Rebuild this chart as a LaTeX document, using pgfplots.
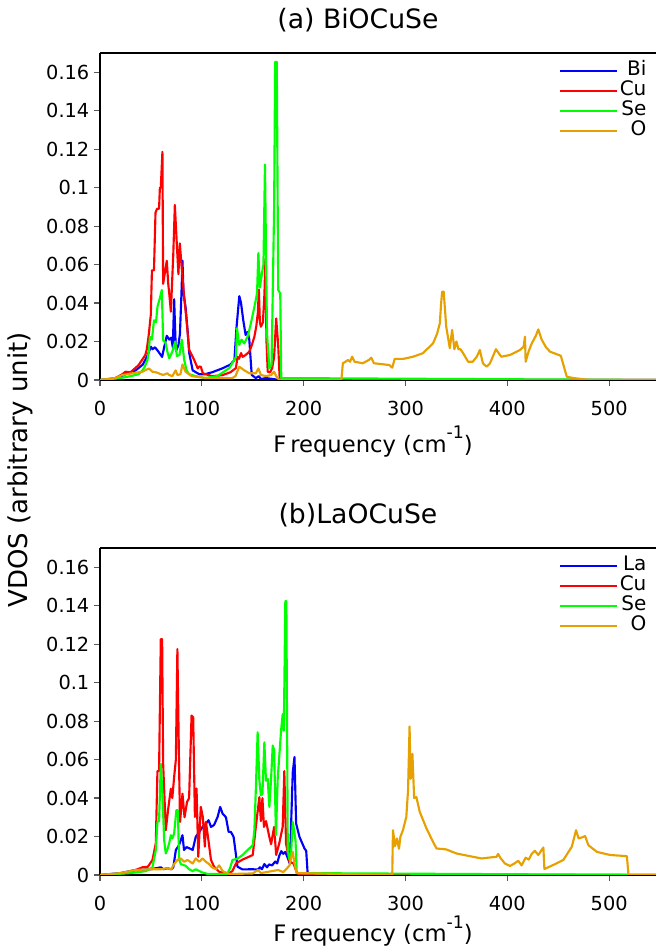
\documentclass[border=0pt]{standalone}
\usepackage{fontspec}
\setmainfont{DejaVu Sans}
\usepackage{pgfplots}
\pgfplotsset{compat=1.18}
\definecolor{cBi}{RGB}{0,0,255}
\definecolor{cCu}{RGB}{255,0,0}
\definecolor{cSe}{RGB}{0,255,0}
\definecolor{cO}{RGB}{230,160,0}

\pgfplotsset{
  vdos/.style={
    scale only axis, width=417pt, height=245.25pt,
    xmin=0, xmax=546, ymin=0, ymax=0.17,
    axis x line=box, axis y line=left, axis line style={-, line width=1.6pt},
    xtick pos=left, tick align=outside,
    xtick={0,100,...,500}, ytick={0,0.02,...,0.16},
    major tick length=4.5pt, tick style={gray!70!black, line width=0.9pt},
    scaled y ticks=false,
    /pgf/number format/assume math mode=true,
    yticklabel style={/pgf/number format/fixed, /pgf/number format/precision=2},
    xticklabel style={yshift=-8pt},
    tick label style={font=\fontsize{14.5}{16}\selectfont},
    xlabel={F\kern3pt requency (cm\raisebox{0.6em}{\fontsize{13}{13}\selectfont -1})},
    xlabel style={font=\fontsize{17}{19}\selectfont, at={(0.491,0)}, anchor=center, yshift=-46pt},
    title style={font=\fontsize{20}{22}\selectfont, at={(0.464,1)}, anchor=center, yshift=18.75pt},
    every axis plot/.append style={line width=1.6pt, mark=none, line join=round},
    legend cell align=right,
    legend style={draw=none, fill=none, at={(1,1)}, anchor=north east, xshift=-3pt, yshift=-3.5pt,
      font=\fontsize{15}{16}\selectfont, row sep=0pt,
      nodes={inner sep=1pt, text height=10.5pt, text depth=2.5pt}},
    legend image code/.code={\draw[##1] (0pt,0pt) -- (43pt,0pt);},
  }
}

\begin{document}
\begin{tikzpicture}
\begin{axis}[vdos, at={(75pt,426.75pt)}, anchor=origin, title={(a) BiOCuSe}]
\addplot[cBi] coordinates {(0,0) (15,0.0005) (25,0.003) (35,0.005) (42,0.008) (46,0.012) (50,0.0173) (51.5,0.016) (54,0.017) (57,0.015) (61,0.012) (63,0.017) (65.6,0.023) (68,0.021) (70,0.022) (71.5,0.017) (72.8,0.042) (74.5,0.015) (77,0.018) (78.5,0.024) (80,0.045) (81,0.062) (82,0.045) (84,0.038) (86,0.026) (87.6,0.014) (91,0.005) (97.5,0.003) (103,0.003) (110,0.004) (120,0.006) (128,0.008) (132,0.0104) (134,0.027) (136.8,0.0436) (138.5,0.040) (140.7,0.031) (143,0.0234) (145,0.025) (146.6,0.021) (149,0.0026) (153,0.001) (156,0.002) (158,0.0005) (163,0.001) (170,0.0005) (176,0) (546,0)};
\addlegendentry{Bi}
\addplot[cCu] coordinates {(0,0) (15,0.001) (22,0.003) (25,0.0043) (30,0.004) (38,0.0078) (42,0.011) (44.5,0.013) (46,0.016) (48,0.024) (49.9,0.034) (51,0.057) (53,0.057) (54.5,0.087) (56,0.089) (58,0.089) (58.8,0.1) (59.7,0.1) (61.3,0.1186) (62,0.050) (63.5,0.055) (65.6,0.062) (67,0.05) (68,0.045) (69.6,0.0355) (72,0.066) (73.5,0.091) (75.5,0.070) (77,0.055) (78.4,0.071) (80,0.06) (82.5,0.044) (84.8,0.032) (87.6,0.0156) (92.5,0.0104) (96,0.006) (97.5,0.007) (99,0.0069) (101,0.0035) (110,0.002) (120,0.0025) (128,0.004) (133.5,0.0062) (135,0.012) (136.5,0.011) (138.5,0.014) (140,0.012) (143,0.013) (146.6,0.0147) (149,0.018) (151.6,0.0225) (153.5,0.028) (155,0.035) (156,0.047) (157,0.03) (158,0.0277) (160,0.03) (161.5,0.045) (162.4,0.063) (163.5,0.02) (164.7,0.0043) (167,0.004) (169,0.006) (171,0.012) (173,0.032) (174,0.025) (175,0.018) (176.5,0) (546,0)};
\addlegendentry{Cu}
\addplot[cSe] coordinates {(0,0) (20,0.001) (30,0.002) (38,0.003) (41.7,0.005) (44,0.007) (46.6,0.0104) (48,0.015) (49,0.0225) (51,0.021) (53,0.031) (55,0.03) (56.4,0.038) (58.7,0.0424) (60.7,0.0468) (62,0.0208) (64.6,0.019) (66,0.015) (68,0.0113) (71.2,0.015) (73.8,0.02) (75.5,0.0125) (78,0.013) (80.4,0.021) (82.7,0.0104) (85,0.005) (87.6,0.003) (94,0.002) (103,0.001) (115,0.002) (127,0.0062) (133.5,0.012) (134.5,0.0269) (136.8,0.0183) (139,0.021) (141.7,0.019) (145,0.0227) (148,0.029) (151.6,0.038) (154.2,0.045) (155.5,0.066) (157,0.048) (159,0.0554) (160.5,0.06) (162,0.112) (164,0.0243) (166.3,0.006) (168.5,0.008) (171,0.09) (172,0.1654) (173.6,0.1654) (175,0.0468) (177,0.045) (178,0.001) (546,0)};
\addlegendentry{Se}
\addplot[cO] coordinates {(0,0) (15,0.001) (22,0.0026) (32,0.0035) (41.7,0.0043) (48,0.006) (51.5,0.0043) (55,0.004) (62,0.0026) (66,0.0035) (68,0.0026) (71,0.002) (74.3,0.005) (76,0.0026) (79,0.003) (81,0.0081) (84,0.0043) (90,0.002) (105,0.001) (130,0.001) (133,0.002) (136.8,0.0069) (141.7,0.005) (146.6,0.0035) (153,0.0035) (155.5,0.006) (158,0.0026) (163,0.002) (168,0.0026) (171,0.0043) (173,0.002) (176,0) (237,0) (238.5,0.0087) (241,0.0095) (243.5,0.0104) (245.5,0.0095) (247.6,0.0121) (250,0.0095) (258,0.0087) (264,0.0104) (266.4,0.0116) (269,0.0087) (284,0.0078) (287,0.0064) (289.4,0.011) (298,0.011) (307.4,0.0121) (317,0.0139) (327,0.019) (331,0.024) (333.7,0.0294) (335,0.040) (336,0.0459) (337.5,0.0459) (340,0.0277) (343.5,0.0165) (345.8,0.026) (348,0.016) (350,0.02) (352,0.016) (354,0.016) (356.6,0.0139) (361.5,0.0095) (366,0.0095) (370,0.0121) (373,0.0156) (376,0.0087) (379.6,0.0069) (383,0.0087) (388.8,0.016) (394,0.0121) (402.6,0.013) (412.4,0.0156) (416,0.0173) (417.3,0.0225) (418,0.0095) (421,0.015) (424,0.019) (428,0.023) (430.4,0.0263) (433.7,0.021) (438,0.017) (442,0.0147) (452.5,0.0126) (455,0.008) (458.4,0.0017) (465,0.001) (481,0) (546,0)};
\addlegendentry{O}
\end{axis}

\begin{axis}[vdos, at={(75pt,55.5pt)}, anchor=origin, title={(b)LaOCuSe}, xlabel style={yshift=4pt}]
\addplot[cBi] coordinates {(0,0) (20,0.001) (35,0.0026) (50,0.003) (59.7,0.004) (62.5,0.003) (66,0.0035) (70,0.003) (72,0.004) (74.5,0.013) (77.6,0.0155) (81,0.0207) (82.5,0.013) (85,0.0145) (88,0.0138) (91,0.013) (94,0.0198) (97.5,0.0224) (100.7,0.025) (104,0.0267) (106.6,0.0285) (109,0.025) (112,0.026) (115.5,0.0302) (118,0.0354) (120.4,0.0319) (123.7,0.030) (126.3,0.0224) (128.5,0.0224) (130,0.021) (131.2,0.0198) (132.9,0.013) (135,0.0043) (140,0.0029) (150,0.003) (155,0.0028) (157,0.004) (159,0.003) (161.4,0.0057) (164,0.004) (166,0.0055) (169,0.005) (172,0.007) (174,0.006) (176,0.01) (178,0.0124) (180,0.011) (182,0.012) (185,0.008) (186.5,0.0057) (187.7,0.0268) (189.3,0.0535) (191,0.0613) (192.6,0.0268) (195.9,0.0198) (200.8,0.0138) (202.5,0.0125) (204,0) (546,0)};
\addlegendentry{La}
\addplot[cCu] coordinates {(0,0) (22,0.0005) (35,0.0026) (41.6,0.004) (47,0.0043) (51.5,0.0078) (54.8,0.0164) (56.4,0.054) (58,0.054) (59.7,0.1226) (61,0.1226) (62,0.058) (64.6,0.0233) (67,0.0345) (69.6,0.0449) (71,0.040) (72.8,0.0509) (74.5,0.06) (76,0.1174) (77.6,0.058) (78.6,0.0276) (81,0.0423) (83,0.03) (85.5,0.038) (87.5,0.040) (89.9,0.0829) (91.5,0.082) (93.2,0.0302) (94.8,0.045) (96.5,0.0095) (99,0.0354) (101,0.03) (103,0.0147) (104,0.0276) (106,0.02) (109,0.0078) (112,0.0043) (117,0.0017) (125,0.0005) (130,0.002) (133.5,0.006) (140,0.008) (150,0.0104) (153,0.025) (156.5,0.0405) (158,0.028) (159.5,0.04) (161,0.025) (163,0.028) (166.3,0.0198) (168,0.016) (171,0.025) (173,0.0104) (176,0.0164) (179.4,0.025) (181,0.054) (182.7,0.0164) (186,0.0069) (190,0.006) (193,0.0017) (196,0) (546,0)};
\addlegendentry{Cu}
\addplot[cSe] coordinates {(0,0) (30,0.001) (45,0.002) (51.5,0.004) (54.8,0.013) (56.4,0.0276) (58,0.028) (59.7,0.0578) (61.3,0.0423) (63,0.018) (64.6,0.0112) (66,0.013) (67.9,0.0164) (69.6,0.0207) (71,0.019) (72.8,0.0216) (75,0.0337) (76.5,0.0337) (77.6,0.0083) (79.3,0.0057) (84,0.0048) (87.6,0.003) (91,0.002) (94,0.003) (100,0.0014) (106,0.0005) (125,0.0005) (128,0.004) (130,0.0078) (135,0.0085) (140,0.0104) (146.6,0.0138) (150,0.0155) (151.6,0.0233) (153,0.044) (154.8,0.0742) (156.5,0.0492) (158,0.0414) (159.5,0.042) (161.4,0.069) (163,0.049) (164.7,0.05) (166.3,0.0354) (168,0.05) (169.6,0.0673) (171,0.065) (172.8,0.0207) (174.5,0.05) (176,0.0613) (177.8,0.075) (179.4,0.0837) (180.5,0.075) (182,0.1424) (183,0.1424) (184.4,0.013) (186,0.008) (187.7,0.012) (189.3,0.0276) (192,0.0181) (193.2,0.001) (546,0)};
\addlegendentry{Se}
\addplot[cO] coordinates {(0,0) (20,0.001) (35,0.0026) (50,0.003) (60,0.003) (66,0.0035) (70,0.003) (72.8,0.0057) (76,0.0078) (79.3,0.0086) (82.7,0.0069) (86,0.0078) (91,0.006) (94,0.0086) (97.5,0.0069) (100.7,0.0086) (104,0.0069) (107,0.0057) (110,0.004) (113.8,0.003) (117,0.005) (120.5,0.002) (127,0.0005) (150,0.0008) (155,0.0026) (158,0.001) (175,0.0026) (180,0.0015) (186,0.0048) (188,0.0098) (189.3,0.012) (191,0.006) (193,0.001) (287,0) (287.7,0.0233) (289.7,0.015) (291.6,0.019) (293.6,0.0136) (295,0.0199) (297.5,0.0233) (300.8,0.0302) (302.5,0.044) (304,0.0772) (305,0.05) (305.8,0.051) (306.8,0.063) (308.5,0.040) (310.7,0.0405) (314,0.0328) (320.6,0.0242) (327,0.0173) (330.4,0.0138) (340,0.0133) (350,0.0112) (363,0.0098) (374.7,0.0086) (389.5,0.0095) (391,0.011) (393,0.009) (397.6,0.006) (402.6,0.0047) (407,0.006) (410.7,0.0074) (414,0.005) (418,0.009) (421,0.008) (424,0.011) (427,0.0126) (430.4,0.0104) (435.4,0.0143) (436.4,0.0031) (445,0.0052) (455,0.0078) (463.3,0.0147) (467.5,0.0233) (470,0.019) (473,0.0195) (476.4,0.0202) (479.6,0.0155) (488,0.012) (501,0.0104) (517.4,0.0098) (519,0) (546,0)};
\addlegendentry{O}
\end{axis}

\node[rotate=90, font=\fontsize{19.5}{21}\selectfont] at (15pt,359.25pt) {VDOS (arbitrary unit)};
\pgfresetboundingbox
\path[use as bounding box] (0,0) rectangle (492pt,711.75pt);
\end{tikzpicture}
\end{document}
